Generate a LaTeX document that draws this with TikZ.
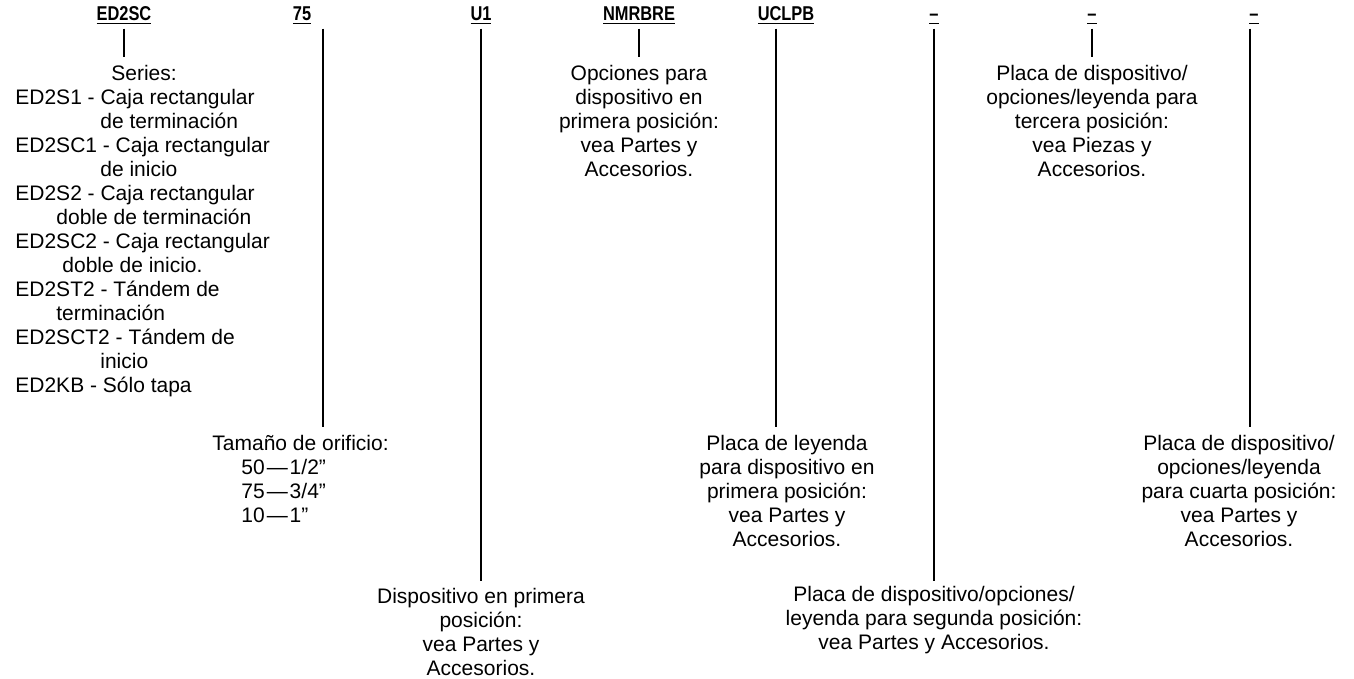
\documentclass[tikz,border=0pt]{standalone}
\usepackage{fontspec}
\setmainfont{Liberation Sans}
\newfontfamily\codefont[FakeStretch=0.82]{Liberation Sans}
\usepackage{tikz}
\usetikzlibrary{positioning}
\newcommand{\code}[1]{{\codefont\bfseries\setbox0\hbox{#1}\rlap{\rule[-1.6pt]{\wd0}{0.75pt}}\box0}}
\newcommand{\sz}[2]{#1\kern1pt—\kern1pt#2}

\begin{document}
\begin{tikzpicture}[x=0.5pt,y=-0.5pt,font=\fontsize{10.5}{12}\selectfont,
  hd/.style={inner xsep=0pt,inner ysep=2pt,anchor=base,font=\fontsize{10}{11}\selectfont},
  txt/.style={inner sep=0pt,anchor=north,align=center},
  lead/.style={line width=0.6pt}]
\useasboundingbox (0,0) rectangle (1354,679);
\node[hd] (h1) at (124,21) {\code{ED2SC}};
\node[hd] (h2) at (302,21) {\code{75}};
\node[hd] (h3) at (481,21) {\code{U1}};
\node[hd] (h4) at (639,21) {\code{NMRBRE}};
\node[hd] (h5) at (786,21) {\code{UCLPB}};
\node[hd] (h6) at (934,21) {\code{–}};
\node[hd] (h7) at (1092,21) {\code{–}};
\node[hd] (h8) at (1254,21) {\code{–}};

\node[txt,anchor=north west,align=left] (d1) at (15,65)
  {\hspace*{48pt}Series:\\
   ED2S1 - Caja rectangular\\
   \hspace*{42.5pt}de terminación\\
   ED2SC1 - Caja rectangular\\
   \hspace*{42.5pt}de inicio\\
   ED2S2 - Caja rectangular\\
   \hspace*{20.5pt}doble de terminación\\
   ED2SC2 - Caja rectangular\\
   \hspace*{23.5pt}doble de inicio.\\
   ED2ST2 - Tándem de\\
   \hspace*{20.5pt}terminación\\
   ED2SCT2 - Tándem de\\
   \hspace*{42.5pt}inicio\\
   ED2KB - Sólo tapa};
\node[txt,anchor=north west,align=left] (d2) at (212,435)
  {Tamaño de orificio:\\
   \hspace*{14.5pt}\sz{50}{1/2”}\\
   \hspace*{14.5pt}\sz{75}{3/4”}\\
   \hspace*{14.5pt}\sz{10}{1”}};
\node[txt] (d3) at (481,588)
  {Dispositivo en primera\\posición:\\vea Partes y\\Accesorios.};
\node[txt] (d4) at (639,65)
  {Opciones para\\dispositivo en\\primera posición:\\vea Partes y\\Accesorios.};
\node[txt] (d5) at (787,435)
  {Placa de leyenda\\para dispositivo en\\primera posición:\\vea Partes y\\Accesorios.};
\node[txt] (d6) at (934,586)
  {Placa de dispositivo/opciones/\\leyenda para segunda posición:\\vea Partes y Accesorios.};
\node[txt] (d7) at (1092,65)
  {Placa de dispositivo/\\opciones/leyenda para\\tercera posición:\\vea Piezas y\\Accesorios.};
\node[txt] (d8) at (1239,435)
  {Placa de dispositivo/\\opciones/leyenda\\para cuarta posición:\\vea Partes y\\Accesorios.};

\coordinate (e1) at (124,57);
\coordinate (e2) at (323,427);
\coordinate (e3) at (481,581);
\coordinate (e4) at (639,57);
\coordinate (e5) at (776,427);
\coordinate (e6) at (934,581);
\coordinate (e7) at (1092,57);
\coordinate (e8) at (1250,427);
\foreach \i in {1,...,8}
  \draw[lead] (h\i.south -| e\i) -- (e\i);
\end{tikzpicture}
\end{document}
